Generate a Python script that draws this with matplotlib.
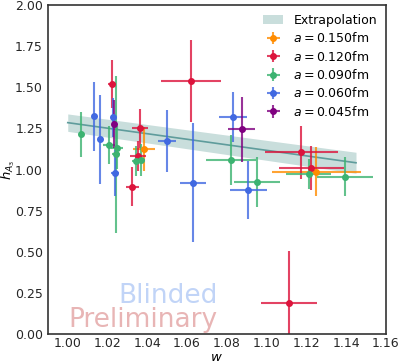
import matplotlib
matplotlib.use("Agg")
import matplotlib.pyplot as plt
import numpy as np

# lattice spacings and their colours
spacings = ["0.150", "0.120", "0.090", "0.060", "0.045"]
colors = ["darkorange", "crimson", "mediumseagreen", "royalblue", "purple"]

# w, w error, h_A3, h_A3 error per ensemble
w_150 = [1.0383, 1.1250]
werr_150 = [0.0057, 0.0223]
h_150 = [1.123, 0.987]
herr_150 = [0.135, 0.148]

w_120 = [1.0222, 1.0325, 1.0364, 1.0354, 1.0620, 1.1175, 1.1225, 1.1111]
werr_120 = [0.0020, 0.0032, 0.0040, 0.0040, 0.0151, 0.0185, 0.0163, 0.0141]
h_120 = [1.518, 0.896, 1.250, 1.082, 1.538, 1.105, 1.007, 0.190]
herr_120 = [0.146, 0.120, 0.120, 0.090, 0.250, 0.162, 0.134, 0.316]

w_090 = [1.0065, 1.0206, 1.0241, 1.0249, 1.0343, 1.0370, 1.0822, 1.0953, 1.1213, 1.1394]
werr_090 = [0.0005, 0.0030, 0.0020, 0.0030, 0.0020, 0.0020, 0.0125, 0.0117, 0.0113, 0.0140]
h_090 = [1.214, 1.149, 1.092, 1.133, 1.052, 1.058, 1.056, 0.924, 0.973, 0.956]
herr_090 = [0.135, 0.113, 0.476, 0.130, 0.090, 0.100, 0.153, 0.150, 0.090, 0.118]

w_060 = [1.0132, 1.0164, 1.0227, 1.0239, 1.0498, 1.0630, 1.0830, 1.0908]
werr_060 = [0.0005, 0.0005, 0.0010, 0.0020, 0.0044, 0.0065, 0.0071, 0.0092]
h_060 = [1.325, 1.183, 1.317, 0.977, 1.173, 0.920, 1.321, 0.875]
herr_060 = [0.210, 0.270, 0.120, 0.140, 0.187, 0.360, 0.152, 0.178]

w_045 = [1.0232, 1.0874]
werr_045 = [0.0010, 0.0069]
h_045 = [1.275, 1.244]
herr_045 = [0.147, 0.200]

# continuum extrapolation band
fit_w = [1.000, 1.145]
fit_h = [1.285, 1.041]
fit_err = [0.053, 0.064]

series = [
    (w_150, werr_150, h_150, herr_150),
    (w_120, werr_120, h_120, herr_120),
    (w_090, werr_090, h_090, herr_090),
    (w_060, werr_060, h_060, herr_060),
    (w_045, werr_045, h_045, herr_045),
]

fig = plt.figure(figsize=(3.99, 3.63), dpi=100)
ax = fig.add_axes([0.12, 0.08, 0.847, 0.906])

fw = np.array(fit_w)
fh = np.array(fit_h)
fe = np.array(fit_err)
ax.fill_between(fw, fh - fe, fh + fe, color="#c9dedc", lw=0, label="Extrapolation")
ax.plot(fw, fh, color="#5f9c9c", lw=1.2)

for (w, we, h, he), a, c in zip(series, spacings, colors):
    eb = ax.errorbar(w, h, xerr=we, yerr=he, fmt="o", ms=4, color=c,
                     elinewidth=1.5, capsize=0, label=f"$a={a}$fm")
    for ln in eb[2]:
        ln.set_alpha(0.8)

ax.text(0.503, 0.095, "Blinded", transform=ax.transAxes, ha="right", va="baseline",
        fontsize=19, color="cornflowerblue", alpha=0.4)
ax.text(0.503, 0.02, "Preliminary", transform=ax.transAxes, ha="right", va="baseline",
        fontsize=19, color="indianred", alpha=0.45)

ax.set_xlim(0.99, 1.16)
ax.set_ylim(0.0, 2.0)
ax.set_xticks(np.arange(1.00, 1.161, 0.02))
ax.set_yticks(np.arange(0.0, 2.01, 0.25))
ax.xaxis.set_major_formatter(matplotlib.ticker.FormatStrFormatter("%.2f"))
ax.yaxis.set_major_formatter(matplotlib.ticker.FormatStrFormatter("%.2f"))
ax.tick_params(length=0, labelsize=9, colors="#262626")
ax.tick_params(axis="x", pad=2.5)
ax.tick_params(axis="y", pad=3.5)
for sp in ax.spines.values():
    sp.set_color("#333333")
    sp.set_linewidth(1.2)

ax.set_xlabel("$w$", fontsize=9.5, labelpad=0)
ax.set_ylabel("$h_{A_3}$", fontsize=9.5, labelpad=0)
ax.yaxis.set_label_coords(-0.092, 0.5)
ax.xaxis.set_label_coords(0.5, -0.051)

ax.legend(loc="upper right", frameon=False, fontsize=9, handlelength=1.6,
          borderaxespad=0.3, labelspacing=0.35)

fig.savefig("out.png", dpi=100)
